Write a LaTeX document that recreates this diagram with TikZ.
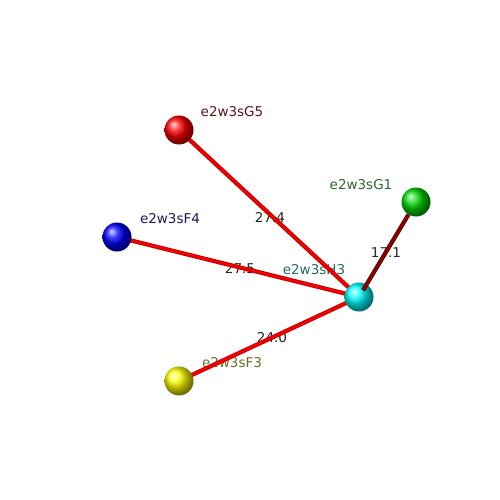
\documentclass[tikz,border=0pt]{standalone}
\usepackage{fontspec}
\setmainfont{DejaVu Sans}
\definecolor{cG5}{RGB}{90,25,25}
\definecolor{cG1}{RGB}{45,105,45}
\definecolor{cF4}{RGB}{25,25,95}
\definecolor{cH3}{RGB}{40,105,105}
\definecolor{cF3}{RGB}{110,110,40}
\pgfdeclarelayer{labels}
\pgfdeclarelayer{edges}
\pgfdeclarelayer{bg}
\pgfsetlayers{bg,labels,edges,main}
\tikzset{
  ball/.style={circle, minimum size=29pt, inner sep=0pt, shading=ball, ball color=#1},
  lbl/.style={font=\fontsize{13.5}{15}\selectfont, text=#1, inner sep=0pt},
  elbl/.style={font=\fontsize{13.5}{15}\selectfont, text=black!85, inner sep=0pt},
  redge/.style={line width=4.2pt, draw=red!75!black, postaction={draw=red!95!black, line width=2.4pt}},
  medge/.style={line width=4.2pt, draw=red!35!black, postaction={draw=red!55!black, line width=2.4pt}}
}
\begin{document}
\begin{tikzpicture}[x=1pt,y=-1pt]
\begin{pgfonlayer}{bg}
\fill[white] (0,0) rectangle (500,500);
\end{pgfonlayer}
\useasboundingbox (0,0) rectangle (500,500);
% spheres
\node[ball=red] (g5) at (179,130) {};
\node[ball=blue] (f4) at (117,237) {};
\node[ball=yellow] (f3) at (179,381) {};
\node[ball=cyan] (h3) at (359,297) {};
\node[ball=green!85!black] (g1) at (416,202) {};
% labels
\begin{pgfonlayer}{labels}
\node[lbl=cG5] (tg5) at (232,112) {e2w3sG5};
\node[lbl=cG1] (tg1) at (361,185) {e2w3sG1};
\node[lbl=cF4] (tf4) at (170,219) {e2w3sF4};
\node[lbl=cH3] (th3) at (314,270) {e2w3sH3};
\node[lbl=cF3] (tf3) at (232,363) {e2w3sF3};
\node[elbl] (d1) at (270,217) {27.4};
\node[elbl] (d2) at (386,253) {17.1};
\node[elbl] (d3) at (240,269) {27.5};
\node[elbl] (d4) at (272,338) {24.0};
\end{pgfonlayer}
% edges
\begin{pgfonlayer}{edges}
\draw[redge] (h3.center) -- (g5.center);
\draw[redge] (h3.center) -- (f4.center);
\draw[redge] (h3.center) -- (f3.center);
\end{pgfonlayer}
\draw[medge, shorten <=8pt] (h3.center) -- (g1);
\end{tikzpicture}
\end{document}
